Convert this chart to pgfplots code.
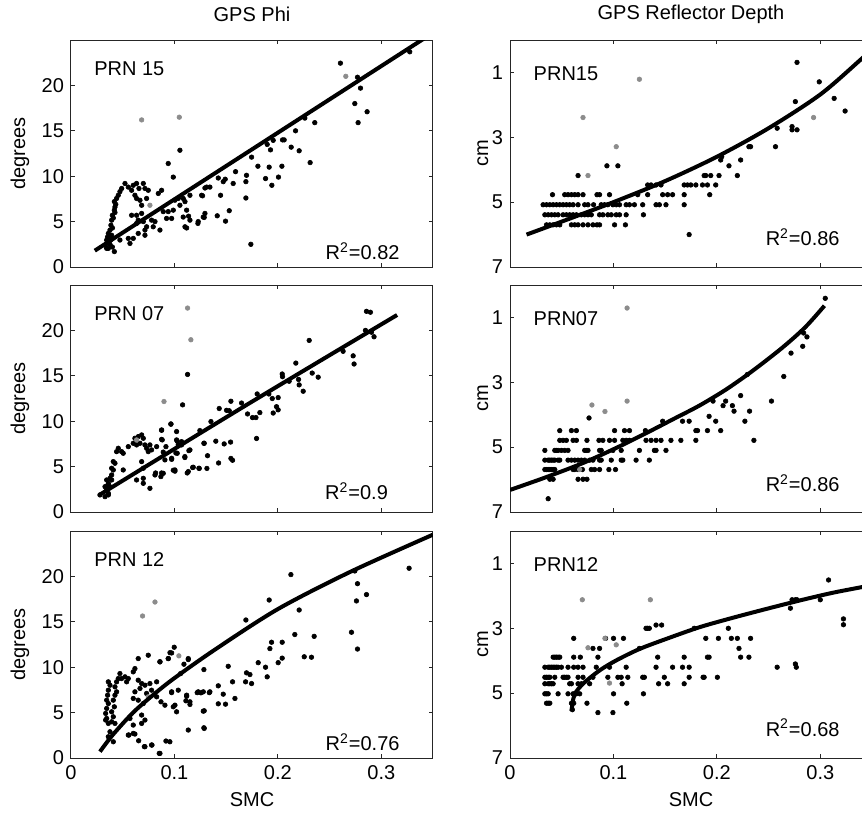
\documentclass[border=0pt]{standalone}
\usepackage{pgfplots}
\pgfplotsset{compat=1.18}
\usepackage{fontspec}
\setmainfont{Liberation Sans}
\definecolor{ptgray}{HTML}{8C8C8C}

\pgfplotsset{
  panel/.style={scale only axis,width=181pt,height=113.5pt,xmin=0,xmax=0.35,
    xtick={0,0.1,0.2,0.3},tick align=inside,tick pos=both,major tick length=2pt,
    axis line style={line width=0.5pt,black!85},every tick/.style={black!85,line width=0.5pt},
    tick label style={font=\fontsize{10}{12}\selectfont},
    label style={font=\fontsize{10}{12}\selectfont},
    /pgf/number format/assume math mode=true,clip mode=individual,
    xlabel style={at={(rel axis cs:0.5,-0.185)},anchor=center}},
  phi/.style={panel,ymin=0,ymax=25,ytick={0,5,10,15,20},ylabel={degrees},
    ylabel style={at={(rel axis cs:-0.141,0.5)},anchor=center}},
  dep/.style={panel,ymin=0,ymax=7,y dir=reverse,ytick={1,3,5,7},ylabel={cm},
    ylabel style={at={(rel axis cs:-0.075,0.5)},anchor=center}},
  pts/.style={only marks,black,mark=*,mark size=1.15pt,line width=0.3pt},
  gpts/.style={only marks,ptgray,mark=*,mark size=1.15pt,line width=0.3pt},
  fit/.style={no marks,black,line width=2pt,smooth,tension=0.5},
}
\newcommand{\ttl}[1]{\node[font=\fontsize{10}{12}\selectfont] at (rel axis cs:0.5,1.115) {#1};}

\begin{document}
\begin{tikzpicture}
\useasboundingbox (0,0) rectangle (431pt,-407pt);

% ---------- row 1 ----------
\begin{axis}[phi,at={(35.5pt,-133.5pt)},anchor=south west,xticklabels={}]
\addplot[pts] coordinates {
(0.0345,2.05) (0.0361,2.6) (0.037,3.15) (0.0361,3.7) (0.0377,4.07) (0.0386,4.6) (0.0393,5.16) (0.040,5.7)
(0.0419,6.26) (0.0425,6.6) (0.0419,7.2) (0.0441,7.55) (0.0457,7.9) (0.0473,8.3) (0.049,8.65) (0.0522,9.2)
(0.0554,8.8) (0.0586,8.45) (0.0602,9.0) (0.0634,9.2) (0.0657,8.65) (0.0699,9.2) (0.0715,8.65) (0.0747,8.45)
(0.0618,7.9) (0.0634,7.55) (0.0667,7.35) (0.0731,7.55) (0.0683,6.8) (0.0844,8.1) (0.0876,8.45) (0.0586,5.7)
(0.0634,5.7) (0.0683,5.9) (0.065,5.16) (0.0634,4.8) (0.0699,5.0) (0.0731,4.43) (0.0715,4.07) (0.0779,5.16)
(0.0812,5.0) (0.0795,4.43) (0.086,4.07) (0.0892,6.1) (0.094,6.1) (0.0989,6.26) (0.0973,5.35) (0.0924,5.35)
(0.1005,7.36) (0.1037,7.55) (0.1085,7.55) (0.1053,6.8) (0.1102,7.2) (0.115,7.9) (0.1118,6.26) (0.115,5.16)
(0.1102,4.43) (0.123,5.0) (0.1279,5.5) (0.1295,5.9) (0.1263,7.9) (0.1311,8.8) (0.1343,8.8) (0.094,11.4)
(0.0989,9.9) (0.1053,12.86) (0.0554,3.15) (0.057,2.6) (0.0602,3.15) (0.065,3.7) (0.0715,3.5) (0.0419,1.7)
(0.0361,2.05) (0.0329,2.4) (0.0345,2.97) (0.0393,3.5) (0.0473,2.97) (0.0385,3.0) (0.0401,4.3) (0.0409,5.4)
(0.0425,6.0) (0.0433,6.9) (0.0377,2.5) (0.0353,3.3) (0.040,2.2)
(0.2605,22.45) (0.3275,23.7) (0.277,20.9) (0.2799,19.7) (0.2744,18.0) (0.2863,17.1) (0.2776,15.9) (0.2261,16.4)
(0.2357,15.9) (0.2171,15.0) (0.2206,12.8) (0.2312,11.5) (0.2045,14.0) (0.2061,14.0) (0.1955,13.95) (0.2129,13.2)
(0.1897,13.5) (0.1929,12.9) (0.1916,11.0) (0.2039,11.1) (0.1807,11.1) (0.1746,12.1) (0.1881,9.74) (0.1942,9.0)
(0.2006,9.9) (0.1697,10.1) (0.1691,9.4) (0.1691,7.6) (0.1739,2.5) (0.1591,10.5) (0.1568,9.2) (0.1491,9.67)
(0.1472,9.4) (0.1424,9.8) (0.1446,7.9) (0.153,6.2) (0.1494,5.05) (0.1414,5.64) (0.1295,8.7) (0.1272,7.84)
(0.1288,5.46) (0.1227,4.8) (0.1137,5.6) (0.1085,5.5) (0.1118,4.3)};
\addplot[gpts] coordinates {(0.0683,16.2) (0.1047,16.5) (0.2657,21.0) (0.0763,6.8)};
\addplot[fit,smooth=false] coordinates {(0.023,1.8) (0.35,25.8)};
\ttl{GPS Phi}
\node[anchor=west] at (rel axis cs:0.045,0.874) {PRN 15};
\node[anchor=east] at (rel axis cs:0.927,0.07) {R\textsuperscript{2}=0.82};
\end{axis}

\begin{axis}[dep,at={(255pt,-133.5pt)},anchor=south west,xticklabels={}]
\addplot[pts] coordinates {
(0.0353,5.7) (0.0385,5.7) (0.0417,5.7) (0.0449,5.7) (0.0481,5.7) (0.0594,5.7) (0.0626,5.7) (0.0658,5.7)
(0.0706,5.7) (0.0754,5.7) (0.0802,5.7) (0.0841,5.7) (0.0866,5.7) (0.1011,5.7) (0.1116,5.7)
(0.0337,5.39) (0.0369,5.39) (0.0401,5.39) (0.0433,5.39) (0.0465,5.39) (0.0513,5.39) (0.0545,5.39) (0.0577,5.39)
(0.061,5.39) (0.0642,5.39) (0.069,5.39) (0.0722,5.39) (0.0754,5.39) (0.0786,5.39) (0.0866,5.39) (0.0898,5.39)
(0.0946,5.39) (0.0979,5.39) (0.1027,5.39) (0.1059,5.39) (0.1123,5.39) (0.129,5.39)
(0.032,5.08) (0.0353,5.08) (0.0385,5.08) (0.0417,5.08) (0.0449,5.08) (0.0481,5.08) (0.0513,5.08) (0.0545,5.08)
(0.0577,5.08) (0.061,5.08) (0.0658,5.08) (0.0722,5.08) (0.0754,5.08) (0.0808,5.08) (0.0882,5.08) (0.0914,5.08)
(0.0946,5.08) (0.0995,5.08) (0.1027,5.08) (0.1059,5.08) (0.1123,5.08) (0.1155,5.08) (0.1203,5.08) (0.1283,5.08)
(0.1412,5.08) (0.1444,5.08) (0.1508,5.08) (0.1684,5.08)
(0.0411,4.77) (0.0529,4.77) (0.0561,4.77) (0.0594,4.77) (0.0626,4.77) (0.0658,4.77) (0.0706,4.77) (0.0841,4.77)
(0.0866,4.77) (0.0962,4.77) (0.1235,4.77) (0.1331,4.77) (0.1476,4.77) (0.1524,4.77) (0.1572,4.77) (0.1684,4.77)
(0.1931,4.77)
(0.1331,4.47) (0.1364,4.47) (0.1412,4.47) (0.146,4.47) (0.1684,4.47) (0.1716,4.47) (0.1748,4.47) (0.1797,4.47)
(0.1861,4.47) (0.1909,4.47) (0.1989,4.47)
(0.0658,4.18) (0.1877,4.18) (0.1893,4.18) (0.1941,4.18) (0.2021,4.18) (0.2198,4.18)
(0.0937,3.88) (0.1043,3.88) (0.2117,3.88) (0.2037,3.7) (0.223,3.7) (0.2047,3.6)
(0.231,3.29) (0.2326,3.29) (0.2567,3.29) (0.2727,2.77) (0.2775,2.77) (0.2583,2.72) (0.2727,2.67)
(0.2759,1.9) (0.2775,0.69) (0.299,1.29) (0.3134,1.8) (0.324,2.19) (0.1732,6.0)};
\addplot[gpts] coordinates {(0.0706,2.39) (0.1251,1.21) (0.1027,3.29) (0.0754,4.18) (0.2935,2.39)};
\addplot[fit] coordinates {(0.016,6.0) (0.05,5.6) (0.1,5.0) (0.15,4.35) (0.2,3.6) (0.25,2.72) (0.3,1.68) (0.3385,0.62) (0.35,0.28)};
\ttl{GPS Reflector Depth}
\node[anchor=west] at (rel axis cs:0.046,0.852) {PRN15};
\node[anchor=east] at (rel axis cs:0.93,0.13) {R\textsuperscript{2}=0.86};
\end{axis}

% ---------- row 2 ----------
\begin{axis}[phi,at={(35.5pt,-256pt)},anchor=south west,xticklabels={}]
\addplot[pts] coordinates {
(0.2857,22.1) (0.2895,22.0) (0.2847,20.0) (0.2905,19.8) (0.293,19.3) (0.2728,17.2) (0.2737,16.3) (0.2631,17.7)
(0.2303,18.9) (0.2174,16.4) (0.2109,14.4) (0.22,14.6) (0.2206,14.0) (0.2245,13.3) (0.2332,15.3) (0.239,14.85)
(0.2042,15.2) (0.2045,14.9) (0.1913,13.0) (0.1946,12.5) (0.2003,12.6) (0.1987,11.6) (0.2003,11.25) (0.1955,10.9)
(0.18,13.0) (0.1826,10.95) (0.1755,10.4) (0.1788,10.4) (0.1707,10.8) (0.1794,8.1) (0.1649,12.0) (0.1546,12.2)
(0.1433,11.4) (0.1504,11.2) (0.153,11.15) (0.1353,9.96) (0.1246,8.97) (0.1285,7.57) (0.132,6.2) (0.14,7.8)
(0.1481,7.5) (0.1543,7.7) (0.1546,5.9) (0.1562,5.7) (0.1427,5.4) (0.1314,4.8) (0.124,4.8) (0.1176,4.9)
(0.1124,4.3) (0.114,6.76) (0.1101,6.0) (0.1079,11.8) (0.1069,7.75) (0.1027,7.8) (0.1037,7.4) (0.1014,6.5)
(0.1005,4.5) (0.0989,4.6) (0.0973,5.8) (0.0966,9.7) (0.0876,9.0) (0.0876,8.0) (0.0918,7.2) (0.0892,6.6)
(0.0876,4.3) (0.0818,4.3) (0.1127,15.15)
(0.028,1.88) (0.0329,1.69) (0.0361,1.88) (0.0345,2.43) (0.0329,2.79) (0.0361,3.16) (0.0345,3.53) (0.0377,3.71)
(0.0393,4.08) (0.0409,4.63) (0.0393,4.82) (0.0425,5.37) (0.0409,5.55) (0.0441,6.65) (0.0457,7.02) (0.0489,6.65)
(0.0505,6.47) (0.0554,7.2) (0.0602,7.57) (0.0618,8.12) (0.065,8.3) (0.0683,8.49) (0.0699,8.12) (0.0667,7.57)
(0.0634,7.39) (0.0715,7.39) (0.0731,7.02) (0.0763,7.39) (0.0779,6.84) (0.0828,7.2) (0.0747,6.65) (0.0683,5.55)
(0.0699,4.82) (0.0634,3.53) (0.0699,3.71) (0.0699,3.16) (0.0763,2.61) (0.0505,4.63) (0.0812,4.08) (0.0869,3.9)
(0.0892,4.26) (0.0908,5.74) (0.0882,7.94) (0.0876,9.04) (0.0966,9.67) (0.1021,8.86) (0.1021,7.94) (0.0973,5.92)
(0.1005,4.63) (0.1027,6.47) (0.1069,7.39) (0.1101,6.1) (0.115,6.84) (0.1134,4.45) (0.1182,4.93) (0.1237,4.82)
(0.1288,7.57) (0.0361,2.06) (0.0345,2.79) (0.0377,2.79) (0.0393,3.53)};
\addplot[gpts] coordinates {(0.1127,22.46) (0.1159,18.97) (0.0899,12.17) (0.0634,7.94)};
\addplot[fit] coordinates {(0.0274,1.875) (0.1713,11.9) (0.3153,21.7)};
\node[anchor=west] at (rel axis cs:0.045,0.874) {PRN 07};
\node[anchor=east] at (rel axis cs:0.895,0.09) {R\textsuperscript{2}=0.9};
\end{axis}

\begin{axis}[dep,at={(255pt,-256pt)},anchor=south west,xticklabels={}]
\addplot[pts] coordinates {
(0.0385,5.99) (0.0417,5.99) (0.0658,5.99) (0.0706,5.99) (0.0744,5.99)
(0.0337,5.69) (0.0353,5.69) (0.0369,5.69) (0.0385,5.69) (0.0401,5.69) (0.0417,5.69) (0.0433,5.69) (0.061,5.69)
(0.0626,5.69) (0.0658,5.69) (0.07,5.69) (0.0786,5.69) (0.0818,5.69) (0.0866,5.69) (0.0956,5.69) (0.102,5.69)
(0.0337,5.4) (0.0369,5.4) (0.0385,5.4) (0.0401,5.4) (0.0417,5.4) (0.0433,5.4) (0.0465,5.4) (0.0481,5.4)
(0.0561,5.4) (0.0594,5.4) (0.0626,5.4) (0.0658,5.4) (0.069,5.4) (0.0722,5.4) (0.077,5.4) (0.0802,5.4)
(0.0866,5.4) (0.0882,5.4) (0.0979,5.4) (0.1075,5.4) (0.1091,5.4) (0.1219,5.4) (0.1347,5.4)
(0.0337,5.1) (0.0433,5.1) (0.0449,5.1) (0.0465,5.1) (0.0497,5.1) (0.0529,5.1) (0.0561,5.1) (0.0722,5.1)
(0.0738,5.1) (0.0754,5.1) (0.0866,5.1) (0.0882,5.1) (0.0995,5.1) (0.1075,5.1) (0.1251,5.1) (0.1396,5.1)
(0.1412,5.1) (0.1508,5.1)
(0.0481,4.79) (0.0513,4.79) (0.0545,4.79) (0.061,4.79) (0.0642,4.79) (0.0744,4.79) (0.086,4.79) (0.0898,4.79)
(0.0962,4.79) (0.1011,4.79) (0.1091,4.79) (0.1123,4.79) (0.1155,4.79) (0.1315,4.79) (0.1364,4.79) (0.1412,4.79)
(0.146,4.79) (0.1556,4.79) (0.1652,4.79) (0.1797,4.79) (0.2358,4.79)
(0.0481,4.49) (0.0594,4.49) (0.0642,4.49) (0.1011,4.49) (0.1107,4.49) (0.1155,4.49) (0.1309,4.49) (0.1797,4.49)
(0.1813,4.49) (0.1909,4.49) (0.2037,4.49)
(0.1476,4.2) (0.1668,4.2) (0.1732,4.2) (0.1989,4.2) (0.2271,4.2) (0.1925,4.05) (0.0764,4.1)
(0.2166,3.89) (0.2316,3.89) (0.206,3.72) (0.215,3.72) (0.1963,3.58) (0.2085,3.58) (0.2528,3.58) (0.223,3.41)
(0.2647,2.82) (0.2294,2.76) (0.2717,2.1) (0.283,1.89) (0.2871,1.6) (0.2839,1.48) (0.3048,0.41) (0.0369,6.59)};
\addplot[gpts] coordinates {(0.1132,0.71) (0.1132,3.58) (0.0792,3.7) (0.0918,3.9) (0.0674,5.69)};
\addplot[fit] coordinates {(0,6.32) (0.0337,5.94) (0.069,5.51) (0.101,5.05) (0.1315,4.57) (0.157,4.15) (0.183,3.72)
  (0.2085,3.23) (0.234,2.66) (0.263,1.94) (0.2855,1.3) (0.304,0.64)};
\node[anchor=west] at (rel axis cs:0.046,0.852) {PRN07};
\node[anchor=east] at (rel axis cs:0.93,0.128) {R\textsuperscript{2}=0.86};
\end{axis}

% ---------- row 3 ----------
\begin{axis}[phi,at={(35.5pt,-379pt)},anchor=south west,xlabel={SMC}]
\addplot[pts] coordinates {
(0.2126,20.2) (0.2744,20.6) (0.3269,20.9) (0.277,19.2) (0.2857,18.0) (0.276,17.3) (0.1916,17.4) (0.1691,15.2)
(0.2206,16.3) (0.2712,13.85) (0.277,12.0) (0.2164,13.6) (0.2351,13.4) (0.2042,12.75) (0.1939,12.75) (0.1923,12.05)
(0.2325,11.1) (0.2255,11.15) (0.2042,11.0) (0.2003,10.5) (0.181,10.5) (0.1881,10.0) (0.1897,8.94) (0.152,10.1)
(0.1697,9.38) (0.173,9.19) (0.1746,8.2) (0.1688,8.39) (0.1562,8.39) (0.1424,7.95) (0.1472,7.03) (0.1424,5.97)
(0.1494,5.93) (0.1585,6.56) (0.1285,9.74) (0.1279,5.16) (0.1285,3.33) (0.1337,7.2) (0.1256,7.18) (0.122,7.2)
(0.115,5.9) (0.1111,6.3) (0.1118,6.8) (0.1134,3.08) (0.1037,7.47) (0.1021,5.09) (0.0989,5.64) (0.0973,7.2)
(0.0998,12.2) (0.0957,11.6) (0.0941,10.95) (0.086,10.6) (0.1092,10.33) (0.1134,10.95) (0.106,9.3) (0.0918,1.87)
(0.0853,0.51) (0.0783,1.43) (0.0709,1.25) (0.0654,1.9) (0.056,2.53) (0.0618,2.64)
(0.0361,8.39) (0.0377,8.02) (0.0361,7.47) (0.0354,6.92) (0.0345,6.37) (0.0361,6.0) (0.0345,5.46) (0.0335,4.91)
(0.0345,4.36) (0.0335,4.18) (0.0361,3.81) (0.0393,3.99) (0.0409,4.54) (0.0393,5.09) (0.0419,5.64) (0.0409,6.37)
(0.0425,6.92) (0.0441,7.29) (0.0425,7.84) (0.0441,8.39) (0.0457,8.75) (0.0473,9.3) (0.0489,8.75) (0.0522,8.94)
(0.0554,8.75) (0.0538,8.39) (0.0602,9.49) (0.0618,9.85) (0.065,10.95) (0.0747,11.32) (0.086,10.59) (0.094,10.95)
(0.0973,11.57) (0.1134,10.84) (0.065,8.57) (0.0683,8.2) (0.0667,7.66) (0.0715,8.02) (0.0763,8.2) (0.0828,8.39)
(0.0779,7.47) (0.0731,7.11) (0.0618,7.29) (0.0602,6.56) (0.065,6.37) (0.0699,6.0) (0.0828,6.74) (0.087,6.19)
(0.0908,5.82) (0.0973,7.29) (0.1005,5.82) (0.1118,6.92) (0.115,6.19) (0.123,7.29) (0.1279,7.29) (0.1343,7.29)
(0.1288,5.2) (0.1288,3.26) (0.0683,4.73) (0.0715,4.18) (0.0602,3.63) (0.057,4.36) (0.0683,3.81)
(0.0554,2.53) (0.0602,2.71) (0.0425,3.81) (0.0377,2.89) (0.0361,2.34) (0.0409,1.79) (0.0715,1.25) (0.0779,1.43)
(0.086,0.51) (0.0956,1.79)};
\addplot[gpts] coordinates {(0.0692,15.64) (0.0812,17.18) (0.1043,11.25) (0.0747,6.74)};
\addplot[fit] coordinates {(0.028,0.7) (0.04,2.5) (0.06,5.0) (0.08,7.0) (0.1,8.8) (0.14,12.0) (0.2,16.4) (0.27,20.5) (0.35,24.6)};
\node[anchor=west] at (rel axis cs:0.045,0.874) {PRN 12};
\node[anchor=east] at (rel axis cs:0.927,0.068) {R\textsuperscript{2}=0.76};
\end{axis}

\begin{axis}[dep,at={(255pt,-379pt)},anchor=south west,xlabel={SMC}]
\addplot[pts] coordinates {
(0.085,5.6) (0.0995,5.6) (0.0603,5.51)
(0.0353,5.31) (0.0369,5.31) (0.0385,5.31) (0.0594,5.31) (0.0616,5.31) (0.0744,5.31) (0.1129,5.31)
(0.0337,5.02) (0.0353,5.02) (0.0369,5.02) (0.0465,5.02) (0.0561,5.02) (0.061,5.02) (0.0642,5.02) (0.0674,5.02)
(0.1001,5.02) (0.129,5.02)
(0.0337,4.71) (0.0369,4.71) (0.0385,4.71) (0.0401,4.71) (0.0417,4.71) (0.0577,4.71) (0.0594,4.71) (0.0658,4.71)
(0.069,4.71) (0.077,4.71) (0.1084,4.71) (0.1437,4.71) (0.1524,4.71) (0.1684,4.71)
(0.0337,4.51) (0.0353,4.51) (0.0369,4.51) (0.0385,4.51) (0.0433,4.51) (0.0513,4.51) (0.0529,4.51) (0.0545,4.51)
(0.0561,4.51) (0.0658,4.51) (0.0706,4.51) (0.0802,4.51) (0.0946,4.51) (0.1043,4.51) (0.1075,4.51) (0.1139,4.51)
(0.1283,4.51) (0.1299,4.51) (0.1492,4.51) (0.1732,4.51) (0.1867,4.51) (0.1877,4.51) (0.2005,4.51)
(0.0337,4.2) (0.0369,4.2) (0.0385,4.2) (0.0401,4.2) (0.0417,4.2) (0.0433,4.2) (0.0449,4.2) (0.0465,4.2)
(0.0497,4.2) (0.0561,4.2) (0.0616,4.2) (0.0658,4.2) (0.0706,4.2) (0.0834,4.2) (0.0962,4.2) (0.1123,4.2)
(0.1412,4.2) (0.1572,4.2) (0.1668,4.2) (0.1732,4.2) (0.2583,4.2)
(0.0417,3.89) (0.0433,3.89) (0.0449,3.89) (0.0465,3.89) (0.0481,3.89) (0.0616,3.89) (0.068,3.89) (0.085,3.89)
(0.1428,3.89) (0.1684,3.89) (0.1909,3.89) (0.1925,3.89) (0.223,3.89) (0.231,3.89)
(0.0802,3.62) (0.0866,3.62) (0.1251,3.62) (0.2214,3.62)
(0.0616,3.31) (0.0924,3.31) (0.1001,3.31) (0.1097,3.31) (0.1893,3.31) (0.2015,3.31) (0.214,3.31) (0.2198,3.31)
(0.2326,3.31)
(0.1315,3.0) (0.1331,3.0) (0.1347,3.0) (0.1781,3.0) (0.2111,3.0) (0.1412,2.9) (0.1466,2.9)
(0.2727,2.12) (0.2759,2.12) (0.2775,2.12) (0.30,2.12) (0.2711,2.38) (0.308,1.51) (0.3224,2.71) (0.3224,2.89)
(0.2768,4.2) (0.2759,4.1)};
\addplot[gpts] coordinates {(0.0699,2.12) (0.1357,2.12) (0.0918,3.31) (0.1027,3.51) (0.0962,4.69) (0.0754,3.6)};
\addplot[fit] coordinates {(0.0594,5.55) (0.061,5.2) (0.0626,5.02) (0.0706,4.71) (0.0866,4.3) (0.1027,3.99) (0.1251,3.64)
  (0.1508,3.33) (0.1829,2.97) (0.2149,2.68) (0.247,2.41) (0.2791,2.15) (0.3112,1.91) (0.3385,1.74) (0.35,1.67)};
\node[anchor=west] at (rel axis cs:0.046,0.852) {PRN12};
\node[anchor=east] at (rel axis cs:0.93,0.134) {R\textsuperscript{2}=0.68};
\end{axis}
\end{tikzpicture}
\end{document}
